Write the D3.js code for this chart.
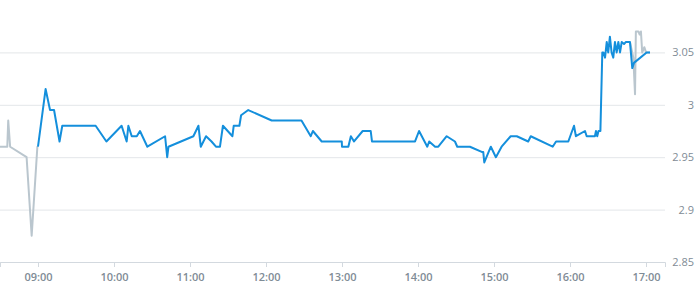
<!DOCTYPE html>
<html>
<head>
<meta charset="utf-8">
<script src="https://cdn.jsdelivr.net/npm/d3@7"></script>
<style>
  body { margin: 0; background: #fff; }
  .tick text { font-family: "Open Sans", sans-serif; fill: #7f8c96; }
</style>
</head>
<body>
<div id="chart-area"></div>
<script>
// regular session (blue)
var mainTimes = ["09:00:00","09:06:00","09:09:30","09:12:40","09:17:00","09:19:10","09:45:30","09:54:00",
    "10:06:00","10:10:00","10:11:20","10:14:00","10:18:00","10:20:30","10:26:20","10:40:20","10:42:00","10:43:00",
    "11:02:40","11:06:40","11:08:30","11:12:40","11:17:00","11:20:30","11:23:40","11:26:00","11:33:30","11:34:30",
    "11:39:00","11:40:20","11:46:00","12:04:30","12:28:00","12:35:20","12:37:00","12:44:00","12:59:50","13:00:00",
    "13:05:00","13:07:00","13:09:30","13:16:20","13:22:40","13:23:40","13:57:40","14:00:50","14:07:20","14:08:50",
    "14:13:30","14:16:00","14:22:40","14:29:10","14:31:00","14:41:00","14:50:20","14:51:30","14:52:20","14:57:30",
    "15:01:30","15:06:00","15:13:10","15:18:00","15:27:00","15:29:00","15:46:20","15:49:00","15:58:40","16:03:10",
    "16:04:40","16:11:50","16:13:10","16:19:40","16:20:30","16:21:30","16:22:30","16:24:00","16:25:30","16:26:20",
    "16:27:40","16:29:00","16:30:10","16:31:30","16:32:50","16:34:10","16:35:30","16:36:50","16:38:10","16:39:30",
    "16:40:50","16:42:40","16:44:10","16:47:20","16:49:10","16:50:30","17:00:30","17:03:10"];
var mainValues = [2.96,3.015,2.995,2.995,2.965,2.98,2.98,2.965,
    2.98,2.965,2.98,2.97,2.97,2.975,2.96,2.97,2.95,2.96,
    2.97,2.98,2.96,2.97,2.965,2.96,2.96,2.98,2.97,2.98,
    2.98,2.99,2.995,2.985,2.985,2.97,2.975,2.965,2.965,2.96,
    2.96,2.97,2.965,2.975,2.975,2.965,2.965,2.975,2.96,2.965,
    2.96,2.96,2.97,2.965,2.96,2.96,2.955,2.955,2.945,2.96,
    2.95,2.96,2.97,2.97,2.965,2.97,2.96,2.965,2.965,2.98,
    2.97,2.975,2.97,2.97,2.975,2.97,2.975,2.975,3.05,3.05,
    3.045,3.06,3.05,3.065,3.05,3.045,3.06,3.05,3.06,3.05,
    3.06,3.058,3.06,3.06,3.035,3.04,3.05,3.05];

// pre-market and late trades (grey)
var preTimes = ["08:30:00","08:35:45","08:36:30","08:38:00","08:51:00","08:55:00","08:59:30","09:00:00"];
var preValues = [2.96,2.96,2.985,2.96,2.95,2.875,2.96,2.96];
var lateTimes = ["16:47:20","16:50:00","16:51:20","16:52:00","16:54:00","16:55:00","16:56:00","16:57:00","16:58:40","17:00:00","17:03:10"];
var lateValues = [3.06,3.045,3.01,3.07,3.07,3.067,3.07,3.05,3.055,3.05,3.05];

var xTicks = ["09:00","10:00","11:00","12:00","13:00","14:00","15:00","16:00","17:00"];
var yTicks = [2.85, 2.9, 2.95, 3, 3.05];

var width = 665, height = 262;

var svg = d3.select("#chart-area")
    .append("svg")
        .attr("width", 695)
        .attr("height", 300);

var parseSec = d3.timeParse("%H:%M:%S"),
    parseMin = d3.timeParse("%H:%M");

function toPoints(times, values){
    return times.map(function(t, i){
        return { time: parseSec(t), value: values[i] };
    });
}
var mainData = toPoints(mainTimes, mainValues),
    preData = toPoints(preTimes, preValues),
    lateData = toPoints(lateTimes, lateValues);

// Scales
var x = d3.scaleTime()
    .domain([parseMin("08:30"), parseMin("17:15")])
    .range([0, width]);
var y = d3.scaleLinear()
    .domain([2.85, 3.1])
    .range([height, 0]);

// Y gridlines + labels on the right
var yAxisCall = d3.axisRight(y)
    .tickValues(yTicks)
    .tickSize(width)
    .tickFormat(function(d){ return +d; });
var yAxis = svg.append("g").call(yAxisCall);
yAxis.select(".domain").remove();
yAxis.selectAll(".tick line")
    .attr("stroke", "#e3e6e9");
yAxis.selectAll(".tick text")
    .attr("x", 694)
    .attr("dy", "0.32em")
    .attr("text-anchor", "end")
    .attr("font-size", "11px");

// X axis
var xAxisCall = d3.axisBottom(x)
    .tickValues(xTicks.map(parseMin))
    .tickSize(5)
    .tickPadding(6)
    .tickFormat(d3.timeFormat("%H:%M"));
var xAxis = svg.append("g")
    .attr("transform", "translate(0," + height + ")")
    .call(xAxisCall);
xAxis.select(".domain")
    .attr("stroke", "#d3d9df");
xAxis.selectAll(".tick line")
    .attr("stroke", "#d3d9df");
xAxis.selectAll(".tick text")
    .attr("font-size", "11px")
    .attr("font-weight", "600");

var line = d3.line()
    .x(function(d){ return x(d.time); })
    .y(function(d){ return y(d.value); });

[preData, lateData].forEach(function(data){
    svg.append("path")
        .datum(data)
        .attr("fill", "none")
        .attr("stroke", "#bac6ce")
        .attr("stroke-width", 2)
        .attr("stroke-linejoin", "round")
        .attr("d", line);
});

svg.append("path")
    .datum(mainData)
    .attr("fill", "none")
    .attr("stroke", "#148fdc")
    .attr("stroke-width", 2)
    .attr("stroke-linejoin", "round")
    .attr("d", line);
</script>
</body>
</html>
